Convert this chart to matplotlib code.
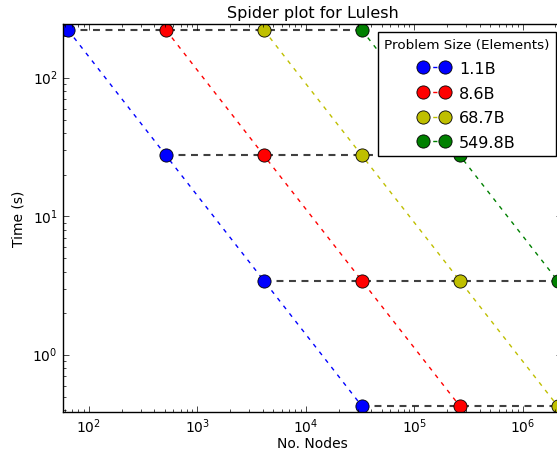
import matplotlib
matplotlib.use("Agg")
import matplotlib.pyplot as plt

plt.style.use("classic")

# nodes for each problem size (factor 8 steps)
nodes = {
    "1.1B": [64, 512, 4096, 32768],
    "8.6B": [512, 4096, 32768, 262144],
    "68.7B": [4096, 32768, 262144, 2097152],
    "549.8B": [32768, 262144, 2097152, 16777216],
}
times = [222, 27.6, 3.44, 0.428]
colors = ["b", "r", "y", "g"]
labels = list(nodes.keys())

fig = plt.figure(figsize=(5.57, 4.56), dpi=100)
ax = fig.add_axes([0.1136, 0.0943, 0.896, 0.851])

# weak scaling lines (same time, growing problem)
for i, t in enumerate(times):
    xs = [nodes[lab][i] for lab in labels]
    ax.plot(xs, [t] * len(xs), "--", color="0.25", lw=1.5, dashes=(5, 4), zorder=1)

for lab, c in zip(labels, colors):
    ax.plot(nodes[lab], times, "o--", color=c, mec="k", mew=0.6, ms=9.5, lw=1,
            dashes=(3, 4), label=lab, zorder=2)

ax.set_xscale("log")
ax.set_yscale("log")
ax.set_xlim(64 / 1.105, 2097152 * 1.105)
ax.set_ylim(0.428 / 1.105, 222 * 1.105)
ax.tick_params(labelsize=10)
ax.tick_params(axis="x", which="major", pad=3)
ax.set_xlabel("No. Nodes", fontsize=10, labelpad=1)
ax.set_ylabel("Time (s)", fontsize=10)
ax.set_title("Spider plot for Lulesh", fontsize=11.5)

leg = ax.legend(title="Problem Size (Elements)", loc="upper right", fontsize=11.5,
                numpoints=2, borderaxespad=0, labelspacing=0.6, handletextpad=0.6,
                bbox_to_anchor=(556 / 557, 1 - 33 / 456), bbox_transform=fig.transFigure)
leg.get_title().set_fontsize(9.7)

fig.savefig("out.png", dpi=100)
